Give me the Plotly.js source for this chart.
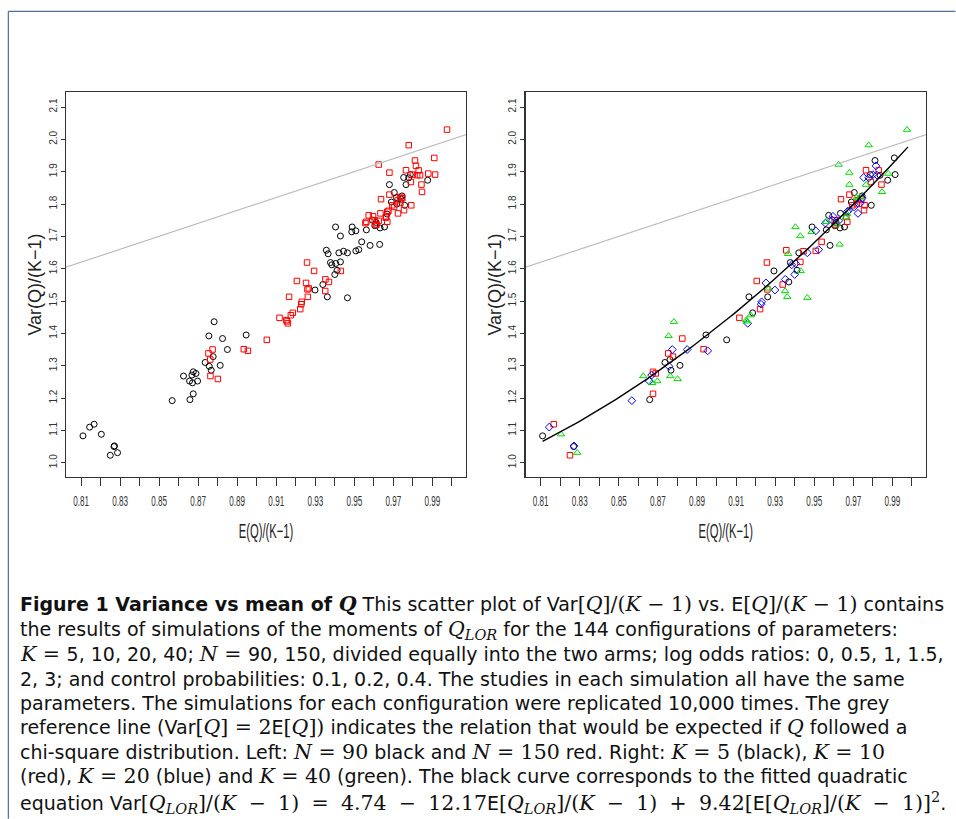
<!DOCTYPE html>
<html><head><meta charset="utf-8">
<script src="https://cdn.plot.ly/plotly-3.0.1.min.js"></script>
<style>html,body{margin:0;padding:0;background:#fff}#chart{width:956px;height:819px}</style>
</head><body><div id="chart"></div>
<script>
// ---------- tick labels ----------
const xTickVals = [0.81,0.83,0.85,0.87,0.89,0.91,0.93,0.95,0.97,0.99];
const xTickText = ['0.81','0.83','0.85','0.87','0.89','0.91','0.93','0.95','0.97','0.99'];
const xMinorVals = [0.82,0.84,0.86,0.88,0.90,0.92,0.94,0.96,0.98,1.00];
const yTickVals = [1.0,1.1,1.2,1.3,1.4,1.5,1.6,1.7,1.8,1.9,2.0,2.1];
const yTickText = ['1.0','1.1','1.2','1.3','1.4','1.5','1.6','1.7','1.8','1.9','2.0','2.1'];
const xTitle = 'E(Q)/(K\u22121)';
const yTitle = 'Var(Q)/(K\u22121)';

// ---------- simulated configurations, grouped by K (E/(K-1), Var/(K-1), N) ----------
const k5E = [0.8110,0.8269,0.8658,0.8736,0.8813,0.8767,0.8762,0.8946,0.9052,0.9185,0.9166,0.9262,0.9294,0.9370,0.9378,0.9421,0.9489,0.9581,0.9412,0.9562,0.9574,0.9910,0.9914,0.9876,0.9811,0.9787,0.9837,0.9705,0.9792,0.9634,0.9655,0.9632,0.9605,0.9612,0.9690,0.9745];
const k5V = [1.083,1.050,1.195,1.310,1.301,1.286,1.319,1.395,1.380,1.4635,1.513,1.513,1.593,1.559,1.619,1.649,1.729,1.672,1.595,1.720,1.765,1.9425,1.891,1.8736,1.9345,1.891,1.889,1.8355,1.796,1.771,1.729,1.726,1.733,1.743,1.806,1.825];
const k5N = [90,90,90,90,90,90,150,90,150,150,150,150,150,150,90,90,90,90,90,90,150,150,150,90,150,90,150,90,150,150,90,90,90,90,90,90];

const k10E = [0.8167,0.8250,0.8675,0.8675,0.8689,0.8753,0.8777,0.8825,0.8934,0.9117,0.9206,0.9223,0.9260,0.9258,0.9339,0.9357,0.9429,0.9445,0.9508,0.9538,0.9844,0.9765,0.9680,0.9637,0.9741,0.9758,0.9755,0.9695,0.9664,0.9669,0.9605,0.9830,0.9723,0.9610,0.9718,0.9790];
const k10V = [1.119,1.023,1.213,1.281,1.276,1.338,1.328,1.384,1.351,1.448,1.562,1.475,1.536,1.619,1.551,1.657,1.621,1.654,1.655,1.683,1.860,1.9045,1.829,1.815,1.815,1.796,1.781,1.796,1.760,1.745,1.750,1.904,1.812,1.735,1.800,1.868];
const k10N = [90,90,90,90,90,150,90,90,150,150,150,150,150,150,90,90,90,90,90,90,150,150,150,150,90,90,150,150,150,150,150,150,150,150,90,150];

const k20E = [0.8144,0.8271,0.8567,0.8656,0.8668,0.8757,0.8774,0.8850,0.8955,0.9160,0.9231,0.9228,0.9253,0.9299,0.9352,0.9385,0.9465,0.9508,0.9523,0.9400,0.9405,0.9816,0.9753,0.9779,0.9800,0.9822,0.9736,0.9724,0.9704,0.9669,0.9596,0.9593,0.9557,0.9675,0.9746,0.9625];
const k20V = [1.110,1.052,1.192,1.2525,1.271,1.298,1.350,1.350,1.346,1.431,1.4975,1.490,1.556,1.534,1.567,1.612,1.649,1.717,1.659,1.582,1.616,1.918,1.882,1.881,1.891,1.889,1.803,1.771,1.791,1.776,1.762,1.750,1.741,1.779,1.818,1.748];
const k20N = [90,90,90,90,90,90,150,90,150,150,150,150,150,90,150,90,90,90,90,90,90,150,90,90,150,150,150,150,150,150,150,90,150,150,150,150];

const k40E = [0.8204,0.8287,0.8625,0.8671,0.8697,0.8763,0.8801,0.8755,0.8782,0.9152,0.9155,0.9175,0.9267,0.9351,0.9362,0.9366,0.9431,0.9465,0.9404,0.9429,0.9487,0.9562,0.9975,0.9779,0.9625,0.9879,0.9847,0.9765,0.9680,0.9680,0.9716,0.9630,0.9614,0.9661,0.9668,0.9735];
const k40V = [1.088,1.031,1.268,1.247,1.2525,1.268,1.259,1.392,1.436,1.441,1.437,1.456,1.539,1.531,1.513,1.646,1.593,1.510,1.729,1.701,1.714,1.745,2.030,1.982,1.922,1.894,1.8375,1.860,1.897,1.860,1.820,1.675,1.737,1.758,1.769,1.822];
const k40N = [90,90,90,90,90,150,150,90,90,150,150,150,150,150,90,90,150,90,90,90,90,150,150,150,150,150,150,90,150,90,90,90,150,150,90,150];

// ---------- reference relations from the caption ----------
const refSlope = 2;                    // Var[Q] = 2E[Q]
const fitCoef = [4.74, -12.17, 9.42];  // fitted quadratic
const fitRange = [0.811, 0.998];

// ---------- build traces ----------
const groups = [
  {E:k5E, V:k5V, N:k5N, sym:'circle-open', col:'#000000', size:6},
  {E:k10E, V:k10V, N:k10N, sym:'square-open', col:'#ff0000', size:5.5},
  {E:k20E, V:k20V, N:k20N, sym:'diamond-open', col:'#0000ff', size:6},
  {E:k40E, V:k40V, N:k40N, sym:'triangle-up-open', col:'#00dd00', size:6.5}
];
function byN(n){
  const xs=[], ys=[];
  groups.forEach(g => g.N.forEach((v,i) => { if(v===n){ xs.push(g.E[i]); ys.push(g.V[i]); } }));
  return {xs, ys};
}
const n90 = byN(90), n150 = byN(150);
const traces = [];
traces.push({x:n90.xs, y:n90.ys, mode:'markers', type:'scatter', xaxis:'x', yaxis:'y',
  marker:{symbol:'circle-open', color:'#000000', size:6, line:{width:1}}});
traces.push({x:n150.xs, y:n150.ys, mode:'markers', type:'scatter', xaxis:'x', yaxis:'y',
  marker:{symbol:'square-open', color:'#ff0000', size:5.5, line:{width:1}}});
groups.forEach(g => traces.push({x:g.E, y:g.V, mode:'markers', type:'scatter', xaxis:'x2', yaxis:'y2',
  marker:{symbol:g.sym, color:g.col, size:g.size, line:{width:1}}}));
const refX = [0.79, 1.02];
const refY = refX.map(v => refSlope*v);
traces.push({x:refX, y:refY, mode:'lines', xaxis:'x', yaxis:'y', line:{color:'#bdbdbd', width:1.2}, hoverinfo:'skip'});
traces.push({x:refX, y:refY, mode:'lines', xaxis:'x2', yaxis:'y2', line:{color:'#bdbdbd', width:1.2}, hoverinfo:'skip'});
const fitX = [], fitY = [];
for(let i=0;i<=80;i++){ const e = fitRange[0] + (fitRange[1]-fitRange[0])*i/80; fitX.push(e); fitY.push(fitCoef[0]+fitCoef[1]*e+fitCoef[2]*e*e); }
traces.push({x:fitX, y:fitY, mode:'lines', xaxis:'x2', yaxis:'y2', line:{color:'#000000', width:1.4}, hoverinfo:'skip'});

// ---------- layout ----------
const L=65.7, T=91.7, PW=860.8, PH=385.3;
const pxX = px => (px-L)/PW;
const pyY = py => 1-(py-T)/PH;
const SANS = '"Liberation Sans",Arial,sans-serif';
const tickFontX = {family:SANS, size:14, color:'#333'};
const tickFontY = {family:SANS, size:10, color:'#333'};
function xAx(domain, anchor){
  return {domain, anchor, range:[0.8023,1.0072], tickmode:'array', tickvals:xTickVals, ticktext:xTickText,
    ticks:'outside', ticklen:8, tickwidth:1, tickcolor:'#333', ticklabelstandoff:3,
    minor:{tickmode:'array', tickvals:xMinorVals, ticks:'outside', ticklen:8, tickwidth:1, tickcolor:'#333', showgrid:false},
    showline:true, mirror:true, linecolor:'#333', linewidth:1.4, showgrid:false, zeroline:false,
    tickfont:tickFontX, title:{text:xTitle, standoff:16, font:{family:SANS, size:20, color:'#222'}}};
}
function yAx(anchor){
  return {domain:[0,1], anchor, range:[0.9558,2.1464], tickmode:'array', tickvals:yTickVals, ticktext:yTickText,
    tickangle:-90, ticks:'outside', ticklen:4, tickwidth:1, tickcolor:'#333',
    showline:true, mirror:true, linecolor:'#333', linewidth:1.4, showgrid:false, zeroline:false,
    tickfont:tickFontY, title:{text:yTitle, standoff:1, font:{family:SANS, size:18, color:'#222'}}};
}

// caption: sans text with serif math (math drawn a little larger, as in the original)
const SERIF = "'DejaVu Serif','Liberation Serif',serif";
const MSZ = 20.5, SSZ = 14.5;
const M = s => `<span style="font-family:${SERIF};font-style:italic;font-size:${MSZ}px">${s}</span>`;
const R = s => `<span style="font-family:${SERIF};font-size:${MSZ}px">${s}</span>`;
const Ms = s => `<span style="font-family:${SERIF};font-style:italic;font-size:${SSZ}px">${s}</span>`;
const Rs = s => `<span style="font-family:${SERIF};font-size:${SSZ}px">${s}</span>`;
const QLOR = M('Q') + '<sub>' + Ms('LOR') + '</sub>';
const SP = '\u2002\u200a';
const captionLines = [
  '<b>Figure 1 Variance vs mean of </b><b>' + M('Q') + '</b> This scatter plot of Var' + R('[') + M('Q') + R(']/(') + M('K') + R(' \u2212 1)') + ' vs. E' + R('[') + M('Q') + R(']/(') + M('K') + R(' \u2212 1)') + ' contains',
  'the results of simulations of the moments of ' + QLOR + ' for the 144 configurations of parameters:',
  M('K') + R(' = ') + '5, 10, 20, 40; ' + M('N') + R(' = ') + '90, 150, divided equally into the two arms; log odds ratios: 0, 0.5, 1, 1.5,',
  '2, 3; and control probabilities: 0.1, 0.2, 0.4. The studies in each simulation all have the same',
  'parameters. The simulations for each configuration were replicated 10,000 times. The grey',
  'reference line (Var' + R('[') + M('Q') + R('] = 2') + 'E' + R('[') + M('Q') + R('])') + ' indicates the relation that would be expected if ' + M('Q') + ' followed a',
  'chi-square distribution. Left: ' + M('N') + R(' = 90') + ' black and ' + M('N') + R(' = 150') + ' red. Right: ' + M('K') + R(' = 5') + ' (black), ' + M('K') + R(' = 10'),
  '(red), ' + M('K') + R(' = 20') + ' (blue) and ' + M('K') + R(' = 40') + ' (green). The black curve corresponds to the fitted quadratic',
  'equation Var' + R('[') + QLOR + R(']/(') + M('K') + R(SP+'\u2212'+SP+'1)'+SP+'='+SP+'4.74'+SP+'\u2212'+SP+'12.17') + 'E' + R('[') + QLOR + R(']/(') + M('K') + R(SP+'\u2212'+SP+'1)'+SP+'+'+SP+'9.42[') + 'E' + R('[') + QLOR + R(']/(') + M('K') + R(SP+'\u2212'+SP+'1)]') + '<sup>' + Rs('2') + '</sup>.'
];
const lineShift = [0,0,0,1.5,1.5,0,0,0,0];
const annotations = captionLines.map((t,i) => ({
  text:t, xref:'paper', yref:'paper', x:pxX(19), y:pyY(591.5 + 24.6*i + lineShift[i]), xanchor:'left', yanchor:'top',
  showarrow:false, align:'left', borderpad:0,
  font:{family:'"DejaVu Sans",sans-serif', size:19, color:'#111'}
}));

const layout = {
  width:956, height:819, paper_bgcolor:'#ffffff', plot_bgcolor:'#ffffff', showlegend:false,
  margin:{l:L, r:956-L-PW, t:T, b:819-T-PH, pad:0},
  xaxis: xAx([0, pxX(466)], 'y'),
  yaxis: yAx('x'),
  xaxis2: xAx([pxX(525.7), 1], 'y2'),
  yaxis2: yAx('x2'),
  shapes:[
    {type:'line', xref:'paper', yref:'paper', x0:pxX(8), x1:pxX(8), y0:pyY(11), y1:pyY(819), line:{color:'#4f7097', width:1.2}},
    {type:'line', xref:'paper', yref:'paper', x0:pxX(8), x1:pxX(956), y0:pyY(11), y1:pyY(11), line:{color:'#4f7097', width:1.2}}
  ],
  annotations
};

// condense horizontal axis text (the original figure's labels are drawn narrow)
function condense(sel, s){
  document.querySelectorAll(sel).forEach(el => {
    const b = el.getBBox();
    const cx = b.x + b.width/2;
    const t = el.getAttribute('transform') || '';
    el.setAttribute('transform', t + ` translate(${cx},0) scale(${s},1) translate(${-cx},0)`);
  });
}
Plotly.newPlot('chart', traces, layout, {staticPlot:true, displayModeBar:false}).then(() => {
  condense('#chart .xtick text', 0.58);
  condense('#chart .x2tick text', 0.58);
  condense('#chart .xtitle', 0.56);
  condense('#chart .x2title', 0.56);
});
</script></body></html>
